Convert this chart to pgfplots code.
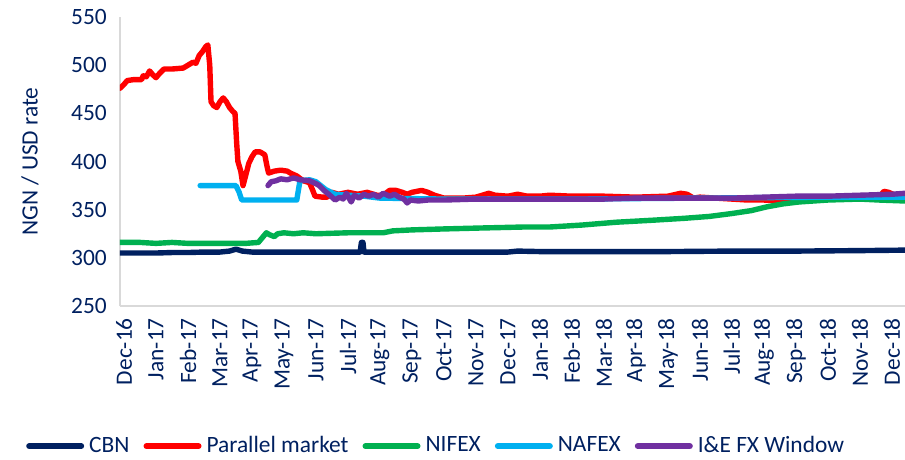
\documentclass[border=0pt]{standalone}
\usepackage{pgfplots}
\pgfplotsset{compat=1.18}
\usepackage{fontspec}
\setmainfont{Carlito}
\definecolor{navy}{HTML}{002060}
\definecolor{cbn}{HTML}{002060}
\definecolor{par}{HTML}{FF0000}
\definecolor{nifex}{HTML}{00B050}
\definecolor{nafex}{HTML}{00B0F0}
\definecolor{iefx}{HTML}{7030A0}
\definecolor{axgray}{HTML}{D9D9D9}
\begin{document}
\begin{tikzpicture}
\fontsize{11.7}{14}\selectfont
\path[use as bounding box] (-60pt,-77pt) rectangle (392.5pt,153pt);
\begin{axis}[
  at={(0,0)}, anchor=south west,
  scale only axis, width=392.5pt, height=144.5pt,
  xmin=-0.125, xmax=24.41, ymin=250, ymax=550,
  ytick={250,300,...,550},
  xtick={0,...,24},
  xticklabels={Dec-16,Jan-17,Feb-17,Mar-17,Apr-17,May-17,Jun-17,Jul-17,Aug-17,Sep-17,Oct-17,Nov-17,Dec-17,Jan-18,Feb-18,Mar-18,Apr-18,May-18,Jun-18,Jul-18,Aug-18,Sep-18,Oct-18,Nov-18,Dec-18},
  axis x line*=bottom, axis y line*=left,
  axis line style={draw=axgray, line width=1pt, -},
  major tick length=0pt,
  tick label style={font=\fontsize{11.7}{14}\selectfont, text=navy},
  /pgf/number format/assume math mode=true,
  xticklabel style={rotate=90, anchor=east, xshift=-2pt},
  y tick label style={xshift=-2.5pt},
  ylabel={NGN / USD rate},
  ylabel style={at={(axis description cs:-0.1146,0.5)}, anchor=center, text=navy, font=\fontsize{11.7}{14}\selectfont},
  legend columns=-1,
  legend style={draw=none, fill=none, at={(0.404,-0.485)}, anchor=center,
    font=\fontsize{11.7}{14}\selectfont, text=navy,
    /tikz/every even column/.append style={column sep=5pt},
    /tikz/every odd column/.append style={column sep=0.5pt}},
  legend image code/.code={\draw[#1, line width=3pt, line cap=round] (0pt,0pt) -- (26pt,0pt);},
  every axis plot/.append style={line width=2.7pt, line join=round, line cap=round},
]
\addplot[cbn] coordinates {
(-0.125,305) (0.5,305) (1,305) (1.5,305.5) (2,305.5) (2.5,306) (3,306) (3.3,307) (3.5,309) (3.7,307) (4,306) (5,306) (6,306) (7,306) (7.38,306) (7.42,316) (7.47,316) (7.5,306) (8,306) (10,306) (12,306) (12.3,307) (13,306.5) (15,306.5) (17,306.5) (19,307) (21,307) (23,307.5) (24.41,308)
};
\addlegendentry{CBN}
\addplot[par] coordinates {
(-0.125,476) (0.0,480) (0.1,484) (0.3,485) (0.55,485) (0.6,489) (0.7,488) (0.8,494) (0.9,490) (1.0,487) (1.1,491) (1.25,496) (1.5,496) (1.85,497) (2.0,500) (2.15,503) (2.25,502) (2.35,510) (2.45,514) (2.55,519) (2.62,521) (2.68,500) (2.72,462) (2.8,458) (2.9,456) (3.0,462) (3.1,466) (3.2,462) (3.3,456) (3.4,452) (3.47,450) (3.52,420) (3.56,400) (3.65,390) (3.72,375) (3.8,385) (3.9,398) (4.0,405) (4.1,410) (4.25,410) (4.4,407) (4.47,395) (4.52,388) (4.7,390) (4.9,391) (5.1,390) (5.2,388) (5.4,385) (5.6,380) (5.8,378) (5.9,370) (5.97,364) (6.2,363) (6.35,363) (6.5,368) (6.7,366) (7.0,368) (7.3,366) (7.6,368) (7.9,365) (8.1,365) (8.3,370) (8.5,370) (8.7,368) (8.85,366) (9.0,368) (9.3,370) (9.5,368) (9.7,365) (10.0,362) (10.2,362) (10.6,362) (11.0,363) (11.2,365) (11.4,367) (11.6,365) (12.0,364) (12.3,366) (12.6,364) (13.0,364) (13.3,365) (14.0,364) (15.0,364) (16.0,363) (17.0,364) (17.4,367) (17.6,366) (17.8,362) (18.0,363) (18.5,362) (19.0,361) (19.5,360) (20.0,360) (20.5,359) (21.0,360) (21.5,361) (22.0,361) (22.7,362) (23.2,362) (23.6,363) (23.75,369) (23.9,368) (24.1,365) (24.41,366)
};
\addlegendentry{Parallel market}
\addplot[nifex] coordinates {
(-0.125,316) (0.5,316) (1.0,315) (1.5,316) (2.0,315) (3.0,315) (3.8,315) (4.2,316) (4.3,320) (4.45,326) (4.55,324) (4.7,322) (4.8,325) (5.0,326) (5.3,325) (5.6,326) (6.0,325) (7.0,326) (8.1,326) (8.4,328) (9.0,329) (10.0,330) (11.2,331) (12.5,332) (13.3,332) (14.3,334) (15.4,337) (16.5,339) (17.5,341) (18.3,343) (19.0,346) (19.6,349) (20.1,353) (20.6,356) (21.1,358) (22.0,360) (23.0,361) (23.6,360) (24.41,359)
};
\addlegendentry{NIFEX}
\addplot[nafex] coordinates {
(2.38,375) (3.5,375) (3.6,368) (3.68,360) (5.4,360) (5.45,370) (5.5,380) (5.8,381) (6.0,379) (6.3,371) (6.6,366) (7.0,365) (7.5,364) (8.0,362) (10,361) (14,361) (18,362) (22,363) (24.41,363)
};
\addlegendentry{NAFEX}
\addplot[iefx] coordinates {
(4.5,375) (4.6,379) (4.75,380) (4.9,382) (5.1,381) (5.3,383) (5.5,381) (5.8,380) (6.0,377) (6.1,375) (6.25,370) (6.4,366) (6.5,363) (6.6,360) (6.75,363) (6.85,361) (6.95,367) (7.0,364) (7.1,358) (7.2,365) (7.35,362) (7.5,366) (7.65,364) (7.8,366) (7.95,363) (8.1,367) (8.3,364) (8.45,366) (8.6,363) (8.75,361) (8.85,357) (8.95,360) (9.2,359) (9.5,360) (10.0,360) (11.0,361) (12.0,361) (13.0,361) (14.0,361) (15.0,361) (16.0,362) (17.0,362) (18.0,362) (19.0,362) (20.0,363) (21.0,364) (22.0,364) (23.0,365) (24.0,366) (24.41,367)
};
\addlegendentry{I\&E FX Window}
\end{axis}
\end{tikzpicture}
\end{document}
